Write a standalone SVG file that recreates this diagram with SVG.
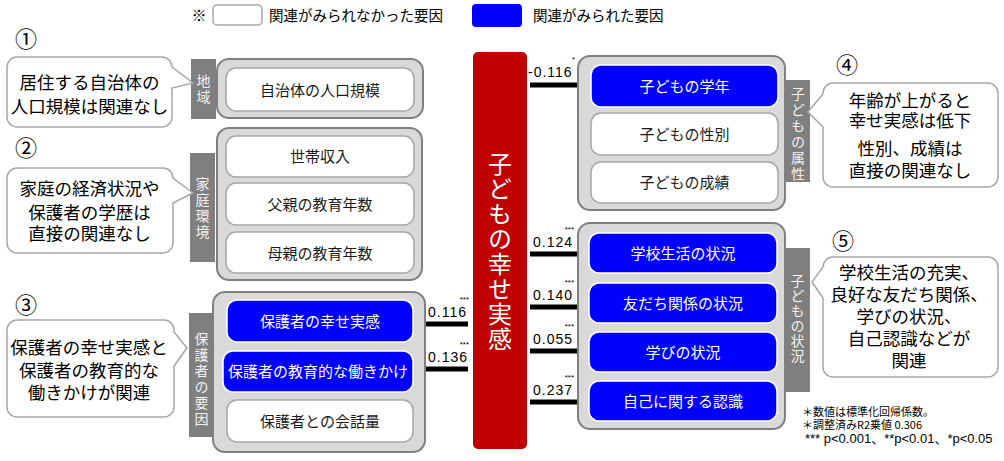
<svg xmlns="http://www.w3.org/2000/svg" width="1004" height="461" viewBox="0 0 1004 461">
<style>
text{font-family:"Noto Sans CJK JP","Noto Sans",sans-serif;}
.grp{fill:#d9d9d9;stroke:#808080;stroke-width:2;}
.wb{fill:#fff;stroke:#a6a6a6;stroke-width:1.5;}
.bb{fill:#0000ff;stroke:#ffffff;stroke-width:1.5;}
.bar{fill:#7f7f7f;}
.bl{font-size:15px;text-anchor:middle;fill:#1a1a1a;}
.wl{font-size:15px;text-anchor:middle;fill:#fff;}
.vt{font-size:14px;fill:#f2f2f2;writing-mode:vertical-rl;letter-spacing:2px;}
.co{fill:#fff;stroke:#a6a6a6;stroke-width:1.5;}
.ct{font-size:17.5px;text-anchor:middle;fill:#000;}
.num{font-family:"Liberation Sans",sans-serif;font-size:14px;letter-spacing:1px;fill:#000;}
.st{font-family:"Liberation Sans",sans-serif;font-size:8px;fill:#000;text-anchor:end;}
.ln{stroke:#000;stroke-width:5;}
.cn{font-size:22px;text-anchor:middle;fill:#000;}
.tt{font-size:24px;fill:#fff;writing-mode:vertical-rl;letter-spacing:1px;}
.fn{font-size:11px;fill:#000;}
</style>

<g id="legend">
  <text x="199" y="21" style="font-size:15px;text-anchor:middle">※</text>
  <rect x="213" y="5" width="49" height="20" rx="4" class="wb"/>
  <text x="269" y="21" style="font-size:14.5px">関連がみられなかった要因</text>
  <rect x="472" y="4" width="50" height="23" rx="4" fill="#0000ff"/>
  <text x="533" y="21" style="font-size:14.5px">関連がみられた要因</text>
</g>

<g id="center-node">
  <rect x="473" y="52" width="54" height="397" rx="5" fill="#c00000"/>
  <text class="tt" x="500" y="152">子どもの幸せ実感</text>
</g>

<g id="connectors">
  <line class="ln" x1="413" y1="324" x2="468" y2="324"/>
  <line class="ln" x1="413" y1="369" x2="468" y2="369"/>
  <line class="ln" x1="530" y1="85" x2="591" y2="85"/>
  <line class="ln" x1="530" y1="254" x2="589" y2="254"/>
  <line class="ln" x1="530" y1="307" x2="589" y2="307"/>
  <line class="ln" x1="530" y1="351" x2="589" y2="351"/>
  <line class="ln" x1="530" y1="402" x2="589" y2="402"/>
  <text class="num" x="428" y="317">0.116</text>
  <text class="st" x="469" y="302">***</text>
  <text class="num" x="428" y="362">0.136</text>
  <text class="st" x="469" y="347">***</text>
  <text class="num" x="528" y="77">-0.116</text>
  <text class="st" x="575" y="62">*</text>
  <text class="num" x="533" y="247">0.124</text>
  <text class="st" x="574" y="232">***</text>
  <text class="num" x="533" y="300">0.140</text>
  <text class="st" x="574" y="285">***</text>
  <text class="num" x="533" y="344">0.055</text>
  <text class="st" x="574" y="329">***</text>
  <text class="num" x="533" y="395">0.237</text>
  <text class="st" x="574" y="380">***</text>
</g>

<g id="group-region">
  <rect x="191" y="59" width="25" height="60" class="bar"/>
  <text class="vt" x="203.5" y="74">地域</text>
  <rect x="217" y="59" width="206" height="59" rx="12" class="grp"/>
  <g id="node-population">
    <rect x="226" y="68" width="188" height="43" rx="10" class="wb"/>
    <text class="bl" x="320" y="96">自治体の人口規模</text>
  </g>
</g>

<g id="group-family">
  <rect x="190" y="153" width="25" height="109" class="bar"/>
  <text class="vt" x="202.5" y="177">家庭環境</text>
  <rect x="217" y="128" width="205" height="152" rx="12" class="grp"/>
  <g id="node-income">
    <rect x="226" y="136" width="188" height="41" rx="10" class="wb"/>
    <text class="bl" x="320" y="162">世帯収入</text>
  </g>
  <g id="node-father">
    <rect x="226" y="183" width="188" height="42" rx="10" class="wb"/>
    <text class="bl" x="320" y="210">父親の教育年数</text>
  </g>
  <g id="node-mother">
    <rect x="226" y="232" width="188" height="41" rx="10" class="wb"/>
    <text class="bl" x="320" y="259">母親の教育年数</text>
  </g>
</g>

<g id="group-parent">
  <rect x="189" y="313" width="25" height="124" class="bar"/>
  <text class="vt" x="201.5" y="332">保護者の要因</text>
  <rect x="213" y="292" width="212" height="160" rx="12" class="grp"/>
  <g id="node-parent-happiness">
    <rect x="227" y="300" width="186" height="42" rx="10" class="bb"/>
    <text class="wl" x="320" y="327">保護者の幸せ実感</text>
  </g>
  <g id="node-parent-education">
    <rect x="223" y="351" width="190" height="41" rx="10" class="bb"/>
    <text class="wl" x="318" y="377">保護者の教育的な働きかけ</text>
  </g>
  <g id="node-parent-talk">
    <rect x="227" y="400" width="186" height="42" rx="10" class="wb"/>
    <text class="bl" x="320" y="427">保護者との会話量</text>
  </g>
</g>

<g id="group-child-attr">
  <rect x="578" y="56" width="207" height="154" rx="12" class="grp"/>
  <rect x="786" y="80" width="24" height="102" class="bar"/>
  <text class="vt" x="798" y="87">子どもの属性</text>
  <g id="node-grade">
    <rect x="591" y="65" width="187" height="42" rx="10" class="bb"/>
    <text class="wl" x="684.5" y="92">子どもの学年</text>
  </g>
  <g id="node-sex">
    <rect x="591" y="113" width="187" height="42" rx="10" class="wb"/>
    <text class="bl" x="684.5" y="140">子どもの性別</text>
  </g>
  <g id="node-score">
    <rect x="591" y="162" width="187" height="41" rx="10" class="wb"/>
    <text class="bl" x="684.5" y="188">子どもの成績</text>
  </g>
</g>

<g id="group-child-status">
  <rect x="578" y="223" width="207" height="206" rx="12" class="grp"/>
  <rect x="785" y="248" width="25" height="144" class="bar"/>
  <text class="vt" x="797.5" y="274" style="letter-spacing:1px">子どもの状況</text>
  <g id="node-school">
    <rect x="589" y="233" width="188" height="40" rx="10" class="bb"/>
    <text class="wl" x="683" y="259">学校生活の状況</text>
  </g>
  <g id="node-friends">
    <rect x="589" y="283" width="188" height="40" rx="10" class="bb"/>
    <text class="wl" x="683" y="309">友だち関係の状況</text>
  </g>
  <g id="node-learning">
    <rect x="589" y="332" width="188" height="40" rx="10" class="bb"/>
    <text class="wl" x="683" y="358">学びの状況</text>
  </g>
  <g id="node-self">
    <rect x="589" y="381" width="188" height="40" rx="10" class="bb"/>
    <text class="wl" x="683" y="407">自己に関する認識</text>
  </g>
</g>

<g id="callout-1">
  <text class="cn" x="26" y="47">①</text>
  <path class="co" d="M17,57 H162 A10,10 0 0 1 172,67 L193,83 L172,88 V117 A10,10 0 0 1 162,127 H17 A10,10 0 0 1 7,117 V67 A10,10 0 0 1 17,57 Z"/>
  <text class="ct"><tspan x="89.5" y="89">居住する自治体の</tspan><tspan x="89.5" y="113">人口規模は関連なし</tspan></text>
</g>

<g id="callout-2">
  <text class="cn" x="26" y="156">②</text>
  <path class="co" d="M17,168 H163 A10,10 0 0 1 173,178 L193,193 L173,203 V243 A10,10 0 0 1 163,253 H17 A10,10 0 0 1 7,243 V178 A10,10 0 0 1 17,168 Z"/>
  <text class="ct"><tspan x="89.5" y="195">家庭の経済状況や</tspan><tspan x="89.5" y="219">保護者の学歴は</tspan><tspan x="89.5" y="240">直接の関連なし</tspan></text>
</g>

<g id="callout-3">
  <text class="cn" x="26" y="313">③</text>
  <path class="co" d="M17,320 H164 A10,10 0 0 1 174,330 V332 L187,348 L174,366 V407 A10,10 0 0 1 164,417 H17 A10,10 0 0 1 7,407 V330 A10,10 0 0 1 17,320 Z"/>
  <text class="ct"><tspan x="89" y="353.5">保護者の幸せ実感と</tspan><tspan x="89" y="376.5">保護者の教育的な</tspan><tspan x="89" y="398.5">働きかけが関連</tspan></text>
</g>

<g id="callout-4">
  <text class="cn" x="847" y="73">④</text>
  <path class="co" d="M833,83 H988 A10,10 0 0 1 998,93 V177 A10,10 0 0 1 988,187 H833 A10,10 0 0 1 823,177 V127 L808,112 L823,94 V93 A10,10 0 0 1 833,83 Z"/>
  <text class="ct"><tspan x="910" y="106.5">年齢が上がると</tspan><tspan x="910" y="126.5">幸せ実感は低下</tspan><tspan x="910" y="154.5">性別、成績は</tspan><tspan x="910" y="176.5">直接の関連なし</tspan></text>
</g>

<g id="callout-5">
  <text class="cn" x="843" y="249">⑤</text>
  <path class="co" d="M833,257 H988 A10,10 0 0 1 998,267 V367 A10,10 0 0 1 988,377 H833 A10,10 0 0 1 823,367 V298 L812,282 L823,267 A10,10 0 0 1 833,257 Z"/>
  <text class="ct"><tspan x="909" y="278.5">学校生活の充実、</tspan><tspan x="909" y="300.5">良好な友だち関係、</tspan><tspan x="909" y="322.5">学びの状況、</tspan><tspan x="909" y="344.5">自己認識などが</tspan><tspan x="909" y="366.5">関連</tspan></text>
</g>

<g id="footnote">
  <text class="fn"><tspan x="802" y="416">＊数値は標準化回帰係数。</tspan><tspan x="802" y="429">＊調整済みR2乗値 0.306</tspan></text>
  <text x="805" y="443" style="font-family:'Liberation Sans','Noto Sans CJK JP',sans-serif;font-size:13px">*** p&lt;0.001、**p&lt;0.01、*p&lt;0.05</text>
</g>
</svg>
